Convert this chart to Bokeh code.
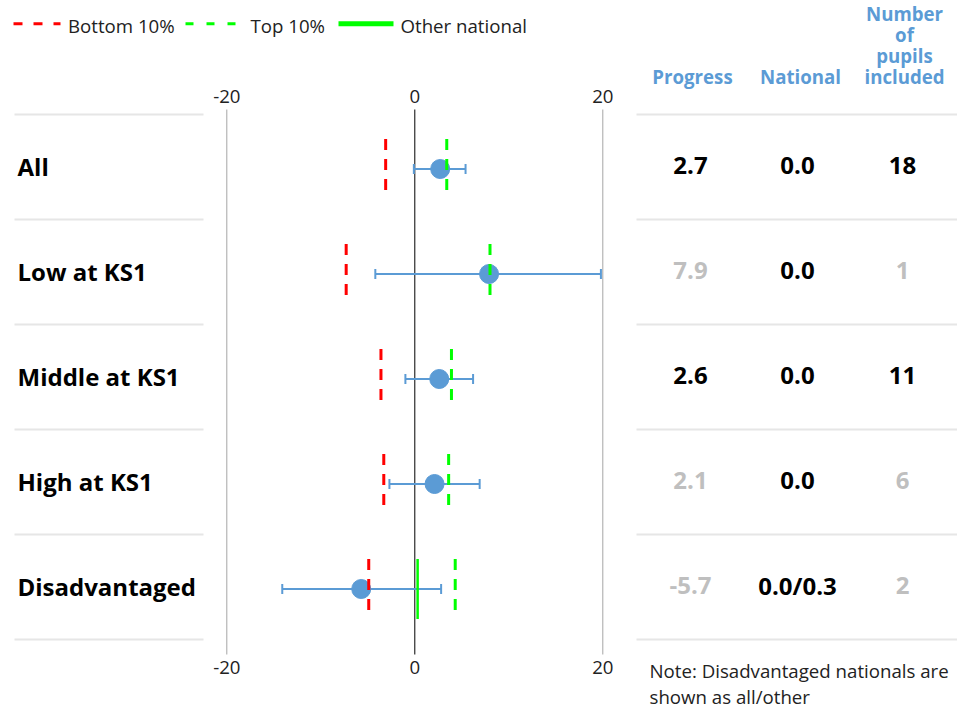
from bokeh.plotting import figure
from bokeh.models import Range1d
from bokeh.embed import file_html
from bokeh.resources import INLINE
from bokeh.core.properties import value

# ---------------- data ----------------
categories = ["All", "Low at KS1", "Middle at KS1", "High at KS1", "Disadvantaged"]
progress = [2.7, 7.9, 2.6, 2.1, -5.7]
ci_lower = [-0.1, -4.2, -1.0, -2.7, -14.1]
ci_upper = [5.4, 19.8, 6.2, 6.9, 2.8]
bottom_10 = [-3.1, -7.3, -3.6, -3.3, -4.9]
top_10 = [3.4, 8.0, 3.9, 3.6, 4.3]
other_national_row = ["Disadvantaged"]
other_national = [0.3]
progress_labels = ["2.7", "7.9", "2.6", "2.1", "-5.7"]
national_labels = ["0.0", "0.0", "0.0", "0.0", "0.0/0.3"]
pupils = [18, 1, 11, 6, 2]
x_ticks = [-20, 0, 20]
tick_labels = ["-20", "0", "20"]
legend_labels = ["Bottom 10%", "Top 10%", "Other national"]
header_titles = ["Progress", "National", "Number\nof\npupils\nincluded"]
note_lines = ["Note: Disadvantaged nationals are", "shown as all/other"]

# ---------------- style / layout ----------------
FONT = value("Open Sans")
BLUE = "#5b9bd5"
RED = "#ff0000"
GREEN = "#00ff00"
GRAY_TXT = "#bfbfbf"
SEP = "#e6e6e6"
TXT = "#222222"
W, H = 957, 710
PX_PER_UNIT = 9.4
ZERO_PX = 414.3          # zero position in frame px
ROW_TOP_PX = 168.5       # first row center in frame px
ROW_STEP = 105.0

x_start = -ZERO_PX / PX_PER_UNIT
x_end = (W - ZERO_PX) / PX_PER_UNIT
y_top = -ROW_TOP_PX / ROW_STEP
y_bottom = (H - ROW_TOP_PX) / ROW_STEP

p = figure(width=W, height=H, x_range=Range1d(x_start, x_end),
           y_range=Range1d(y_bottom, y_top), output_backend="svg",
           toolbar_location=None, min_border=0, x_axis_type=None,
           y_axis_type=None)
p.grid.visible = False
p.outline_line_color = None
# pixel coordinate ranges for layout elements
p.extra_x_ranges = {"px": Range1d(0, W)}
p.extra_y_ranges = {"py": Range1d(H, 0)}

rows = list(range(len(categories)))
row_of = {c: i for i, c in enumerate(categories)}

# row separators
bounds = [i - 0.52 for i in range(len(categories) + 1)]
p.segment(x0=[14] * len(bounds), y0=bounds, x1=[203] * len(bounds), y1=bounds,
          x_range_name="px", line_color=SEP, line_width=2)
p.segment(x0=[636] * len(bounds), y0=bounds, x1=[W] * len(bounds), y1=bounds,
          x_range_name="px", line_color=SEP, line_width=2)

# vertical grid lines and zero line
grid_colors = ["#a6a6a6" if t != 0 else "#000000" for t in x_ticks]
p.segment(x0=x_ticks, y0=[109] * 3, x1=x_ticks, y1=[654] * 3, y_range_name="py",
          line_color=grid_colors, line_width=1)

# tick labels top and bottom
p.text(x=x_ticks, y=[95.5] * 3, text=tick_labels, y_range_name="py",
       text_font=FONT, text_font_size="14pt", text_color=TXT,
       text_align="center", text_baseline="middle")
p.text(x=x_ticks, y=[666.5] * 3, text=tick_labels, y_range_name="py",
       text_font=FONT, text_font_size="14pt", text_color=TXT,
       text_align="center", text_baseline="middle")

# error bars
cap = 5.0 / ROW_STEP
p.segment(x0=ci_lower, y0=rows, x1=ci_upper, y1=rows, line_color=BLUE, line_width=2)
p.segment(x0=ci_lower, y0=[r - cap for r in rows], x1=ci_lower,
          y1=[r + cap for r in rows], line_color=BLUE, line_width=2)
p.segment(x0=ci_upper, y0=[r - cap for r in rows], x1=ci_upper,
          y1=[r + cap for r in rows], line_color=BLUE, line_width=2)

# points
p.scatter(x=progress, y=rows, size=19, fill_color=BLUE, line_color=BLUE)

# percentile lines
half = 30.0 / ROW_STEP
p.segment(x0=bottom_10, y0=[r - half for r in rows], x1=bottom_10,
          y1=[r + half for r in rows], line_color=RED, line_width=3,
          line_dash="11 9")
p.segment(x0=top_10, y0=[r - half for r in rows], x1=top_10,
          y1=[r + half for r in rows], line_color=GREEN, line_width=3,
          line_dash="11 9")
on_rows = [row_of[c] for c in other_national_row]
p.segment(x0=other_national, y0=[r - half for r in on_rows], x1=other_national,
          y1=[r + half for r in on_rows], line_color=GREEN, line_width=2.5)

# row labels
p.text(x=[17] * len(rows), y=rows, text=categories, x_range_name="px",
       text_font=FONT, text_font_size="18pt", text_font_style="bold",
       text_color="#000000", text_align="left", text_baseline="middle",
       y_offset=-3)

# table
val_colors = ["#000000" if n >= 10 else GRAY_TXT for n in pupils]
val_x = [690, 797, 902]
head_x = [692, 800, 904]
p.text(x=[val_x[0]] * len(rows), y=rows, text=progress_labels, x_range_name="px",
       text_font=FONT, text_font_size="18pt", text_font_style="bold",
       text_color=val_colors, text_align="center", text_baseline="middle",
       y_offset=-4)
p.text(x=[val_x[1]] * len(rows), y=rows, text=national_labels, x_range_name="px",
       text_font=FONT, text_font_size="18pt", text_font_style="bold",
       text_color="#000000", text_align="center", text_baseline="middle",
       y_offset=-4)
p.text(x=[val_x[2]] * len(rows), y=rows, text=[str(n) for n in pupils],
       x_range_name="px", text_font=FONT, text_font_size="18pt",
       text_font_style="bold", text_color=val_colors, text_align="center",
       text_baseline="middle", y_offset=-4)

# headers
hx, hy, ht = [], [], []
for cx, title in zip(head_x, header_titles):
    lines = title.split("\n")
    n = len(lines)
    for k, ln in enumerate(lines):
        hx.append(cx)
        hy.append(76 - 21 * (n - 1 - k))
        ht.append(ln)
p.text(x=hx, y=hy, text=ht, x_range_name="px", y_range_name="py",
       text_font=FONT, text_font_size="14pt", text_font_style="bold",
       text_color=BLUE, text_align="center", text_baseline="middle")

# legend
p.segment(x0=[13], y0=[23.3], x1=[60], y1=[23.3], x_range_name="px",
          y_range_name="py", line_color=RED, line_width=3, line_dash="9 11")
p.segment(x0=[185], y0=[23.3], x1=[237], y1=[23.3], x_range_name="px",
          y_range_name="py", line_color=GREEN, line_width=3, line_dash="8 13")
p.segment(x0=[338], y0=[23.3], x1=[393], y1=[23.3], x_range_name="px",
          y_range_name="py", line_color=GREEN, line_width=5)
p.text(x=[67.5, 250, 400], y=[25] * 3, text=legend_labels, x_range_name="px",
       y_range_name="py", text_font=FONT, text_font_size="14pt",
       text_color=TXT, text_align="left", text_baseline="middle")

# note
p.text(x=[649] * len(note_lines), y=[669.5, 695.5], text=note_lines,
       x_range_name="px", y_range_name="py", text_font=FONT,
       text_font_size="14pt", text_color=TXT, text_align="left",
       text_baseline="middle")

open("out.html", "w").write(file_html(p, INLINE))
